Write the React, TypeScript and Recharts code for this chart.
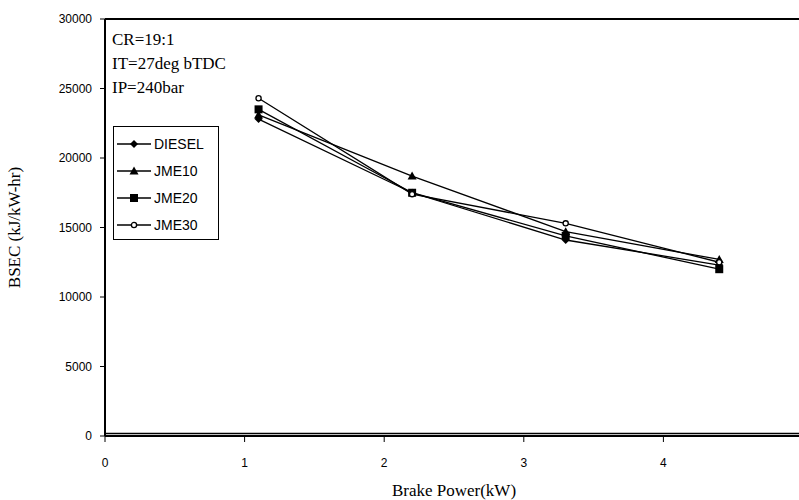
import { LineChart, Line, XAxis, YAxis, ReferenceLine } from 'recharts';

const power = [1.1, 2.2, 3.3, 4.4];
const diesel = [22800, 17500, 14100, 12300];
const jme10 = [23100, 18700, 14700, 12700];
const jme20 = [23500, 17500, 14400, 12000];
const jme30 = [24300, 17400, 15300, 12500];
const xTicks = [0, 1, 2, 3, 4, 5];
const yTicks = [0, 5000, 10000, 15000, 20000, 25000, 30000];
const notes = ['CR=19:1', 'IT=27deg bTDC', 'IP=240bar'];

const data = power.map((p, i) => ({
  p,
  DIESEL: diesel[i],
  JME10: jme10[i],
  JME20: jme20[i],
  JME30: jme30[i],
}));

const serif = '"Liberation Serif", "Times New Roman", serif';
const sans = '"Liberation Sans", Arial, sans-serif';

const Marker = ({ cx, cy, kind }: any) => {
  if (cx == null || cy == null) return null;
  if (kind === 'diamond')
    return <polygon points={`${cx},${cy - 4} ${cx + 4},${cy} ${cx},${cy + 4} ${cx - 4},${cy}`} fill="#000" />;
  if (kind === 'triangle')
    return <polygon points={`${cx},${cy - 4.5} ${cx + 4.5},${cy + 3.5} ${cx - 4.5},${cy + 3.5}`} fill="#000" />;
  if (kind === 'square') return <rect x={cx - 4} y={cy - 4} width={8} height={8} fill="#000" />;
  return <circle cx={cx} cy={cy} r={2.6} fill="#fff" stroke="#000" strokeWidth={1.3} />;
};

const series = [
  { key: 'DIESEL', kind: 'diamond' },
  { key: 'JME10', kind: 'triangle' },
  { key: 'JME20', kind: 'square' },
  { key: 'JME30', kind: 'circle' },
];

// legend drawn as an overlay so it doesn't eat into the plot area
const LegendBox = () => (
  <div
    style={{
      position: 'absolute',
      left: 113,
      top: 126,
      width: 106,
      height: 114,
      boxSizing: 'border-box',
      border: '1.5px solid #000',
      background: '#fff',
      padding: '3px 0 0 3px',
      fontFamily: sans,
      fontSize: 14,
      color: '#000',
    }}
  >
    {series.map((s) => (
      <div key={s.key} style={{ display: 'flex', alignItems: 'center', height: 27 }}>
        <svg width={34} height={12}>
          <line x1={0} y1={6} x2={34} y2={6} stroke="#000" strokeWidth={1.3} />
          <Marker cx={17} cy={6} kind={s.kind} />
        </svg>
        <span style={{ marginLeft: 3 }}>{s.key}</span>
      </div>
    ))}
  </div>
);

export default function App() {
  return (
    <div style={{ position: 'absolute', left: 0, top: 0, width: 799, height: 500, overflow: 'hidden', background: '#fff' }}>
      <LineChart width={810} height={500} data={data} margin={{ top: 19, right: 7, left: 0, bottom: 0 }}>
        <XAxis
          dataKey="p"
          type="number"
          domain={[0, 5]}
          ticks={xTicks}
          axisLine={{ stroke: '#000', strokeWidth: 2 }}
          tickLine={{ stroke: '#000' }}
          tickSize={6}
          tickMargin={16}
          tick={{ fill: '#000', fontSize: 12, fontFamily: sans }}
          height={64}
          label={{ value: 'Brake Power(kW)', position: 'insideBottom', offset: 4, fill: '#000', fontSize: 17, fontFamily: serif }}
        />
        <YAxis
          type="number"
          domain={[0, 30000]}
          ticks={yTicks}
          width={105}
          axisLine={{ stroke: '#000', strokeWidth: 2 }}
          tickLine={{ stroke: '#000' }}
          tickSize={5}
          tickMargin={8}
          tick={{ fill: '#000', fontSize: 12, fontFamily: sans }}
          label={{ value: 'BSEC (kJ/kW-hr)', angle: -90, position: 'insideLeft', offset: 14, fill: '#000', fontSize: 17, fontFamily: serif, style: { textAnchor: 'middle' } }}
        />
        <ReferenceLine y={30000} stroke="#000" strokeWidth={2} />
        <ReferenceLine y={180} stroke="#000" strokeWidth={1.3} />
        {series.map((s) => (
          <Line
            key={s.key}
            dataKey={s.key}
            type="linear"
            stroke="#000"
            strokeWidth={1.3}
            dot={(props: any) => <Marker key={`${s.key}-${props.index}`} cx={props.cx} cy={props.cy} kind={s.kind} />}
            activeDot={false}
            isAnimationActive={false}
          />
        ))}
      </LineChart>
      <LegendBox />
      <div style={{ position: 'absolute', left: 112, top: 28, fontFamily: serif, fontSize: 17, lineHeight: '24px', color: '#000' }}>
        {notes.map((n) => (
          <div key={n}>{n}</div>
        ))}
      </div>
    </div>
  );
}
